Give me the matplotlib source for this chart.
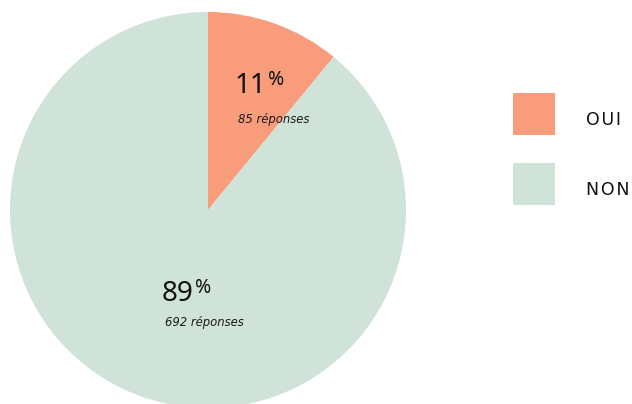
import matplotlib
matplotlib.use("Agg")
import matplotlib.pyplot as plt
from matplotlib.patches import Rectangle

labels = ["OUI", "NON"]
counts = [85, 692]
percents = ["11", "89"]
colors = ["#F89C7C", "#CFE3D9"]

plt.rcParams["font.family"] = ["Noto Sans", "DejaVu Sans"]

W, H = 632, 404
fig = plt.figure(figsize=(W / 100, H / 100), dpi=100)

# pie centre (208, 210) px, radius 198 px
cx, cy, r = 208, 210, 198
ax = fig.add_axes([(cx - r) / W, (H - cy - r) / H, 2 * r / W, 2 * r / H])
ax.pie(counts, colors=colors, startangle=90, counterclock=False,
       wedgeprops=dict(linewidth=0))
ax.set_xlim(-1, 1)
ax.set_ylim(-1, 1)
ax.set_aspect("equal")
ax.axis("off")

# label positions in pie units (number left/baseline, answers centre/baseline)
num_pos = [(0.136, 0.59), (-0.232, -0.46)]
resp_pos = [(0.33, 0.44), (-0.018, -0.586)]

fig.canvas.draw()
renderer = fig.canvas.get_renderer()
for pct, n, (nx, ny), (rx, ry) in zip(percents, counts, num_pos, resp_pos):
    t = ax.text(nx, ny, pct, fontsize=20, ha="left",
                va="baseline", color="#111111")
    bb = t.get_window_extent(renderer)
    px, py = ax.transData.inverted().transform((bb.x1 + 1, bb.y1 + 2))
    ax.text(px, py, "%", fontsize=14, weight="light", ha="left", va="top",
            color="#111111")
    ax.text(rx, ry, f"{n} réponses", fontsize=8.4, style="italic",
            family="DejaVu Sans", ha="center", va="baseline", color="#1a1a1a")

# legend
for i, (lab, col) in enumerate(zip(labels, colors)):
    top = 93 + i * 70
    fig.patches.append(Rectangle((513 / W, (H - top - 42) / H), 42 / W, 42 / H,
                                 transform=fig.transFigure, facecolor=col,
                                 edgecolor="none"))
    fig.text(586 / W, (H - top - 32) / H, "\u200a".join(lab), fontsize=12.5,
             family="DejaVu Sans", ha="left", va="baseline", color="#111111")

fig.savefig("out.png", dpi=100)
